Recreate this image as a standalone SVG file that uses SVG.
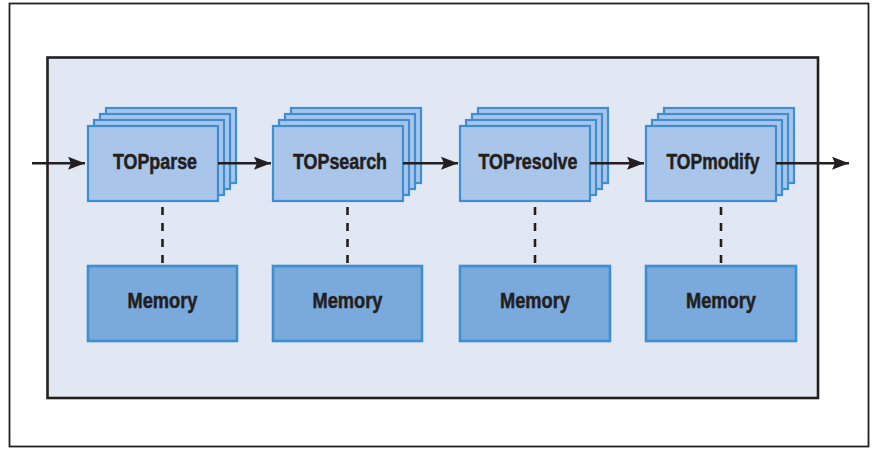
<svg xmlns="http://www.w3.org/2000/svg" width="875" height="449" viewBox="0 0 875 449">
  <defs>
    <style>
      .frame { fill: #ffffff; stroke: #231f20; stroke-width: 1.8; }
      .panel { fill: #e1e8f4; stroke: #231f20; stroke-width: 2.6; }
      .layer { fill: #a9c5e9; stroke: #3d8fd2; stroke-width: 2.2; }
      .mem { fill: #7aa9dc; stroke: #3d8fd2; stroke-width: 2.6; }
      .label { font-family: "Liberation Sans", Arial, sans-serif; font-weight: bold; font-size: 21.5px; fill: #231f20; stroke: #231f20; stroke-width: 0.5; text-anchor: middle; }
      .flow { stroke: #231f20; stroke-width: 2.6; fill: none; marker-end: url(#arrow); }
      .link { stroke: #231f20; stroke-width: 2.6; fill: none; stroke-dasharray: 8 8; }
    </style>
    <marker id="arrow" markerUnits="userSpaceOnUse" markerWidth="18" markerHeight="14" refX="17" refY="7" orient="auto">
      <path d="M0,0.5 L17,7 L0,13.5 L3,7 z" fill="#231f20"/>
    </marker>
    <!-- one stacked process card: three offset copies behind the front face -->
    <g id="stack">
      <rect class="layer" x="18" y="-18" width="130" height="75"/>
      <rect class="layer" x="12" y="-12" width="130" height="75"/>
      <rect class="layer" x="6" y="-6" width="130" height="75"/>
      <rect class="layer" x="0" y="0" width="130" height="75"/>
    </g>
  </defs>

  <rect class="frame" x="9.5" y="3.5" width="859" height="443"/>
  <rect class="panel" x="47.5" y="57.5" width="770.5" height="340.5"/>

  <g id="topparse">
    <use href="#stack" x="88" y="126"/>
    <text class="label" x="155" y="168.5" textLength="84" lengthAdjust="spacingAndGlyphs">TOPparse</text>
  </g>
  <g id="topsearch">
    <use href="#stack" x="273" y="126"/>
    <text class="label" x="340" y="168.5" textLength="94" lengthAdjust="spacingAndGlyphs">TOPsearch</text>
  </g>
  <g id="topresolve">
    <use href="#stack" x="460" y="126"/>
    <text class="label" x="528" y="168.5" textLength="99" lengthAdjust="spacingAndGlyphs">TOPresolve</text>
  </g>
  <g id="topmodify">
    <use href="#stack" x="646" y="126"/>
    <text class="label" x="713" y="168.5" textLength="93" lengthAdjust="spacingAndGlyphs">TOPmodify</text>
  </g>

  <g id="memory1">
    <rect class="mem" x="88" y="266" width="149" height="75"/>
    <text class="label" x="162.5" y="308" textLength="70" lengthAdjust="spacingAndGlyphs">Memory</text>
  </g>
  <g id="memory2">
    <rect class="mem" x="273" y="266" width="149" height="75"/>
    <text class="label" x="347.5" y="308" textLength="70" lengthAdjust="spacingAndGlyphs">Memory</text>
  </g>
  <g id="memory3">
    <rect class="mem" x="460" y="266" width="150" height="75"/>
    <text class="label" x="535" y="308" textLength="70" lengthAdjust="spacingAndGlyphs">Memory</text>
  </g>
  <g id="memory4">
    <rect class="mem" x="646" y="266" width="150" height="75"/>
    <text class="label" x="721" y="308" textLength="70" lengthAdjust="spacingAndGlyphs">Memory</text>
  </g>

  <g id="connectors">
    <line class="flow" x1="32" y1="163.3" x2="85" y2="163.3"/>
    <line class="flow" x1="218" y1="163.3" x2="271" y2="163.3"/>
    <line class="flow" x1="403" y1="163.3" x2="458" y2="163.3"/>
    <line class="flow" x1="590" y1="163.3" x2="644" y2="163.3"/>
    <line class="flow" x1="776" y1="163.3" x2="849" y2="163.3"/>
    <line class="link" x1="162.5" y1="207" x2="162.5" y2="264"/>
    <line class="link" x1="347.5" y1="207" x2="347.5" y2="264"/>
    <line class="link" x1="535" y1="207" x2="535" y2="264"/>
    <line class="link" x1="721" y1="207" x2="721" y2="264"/>
  </g>
</svg>
